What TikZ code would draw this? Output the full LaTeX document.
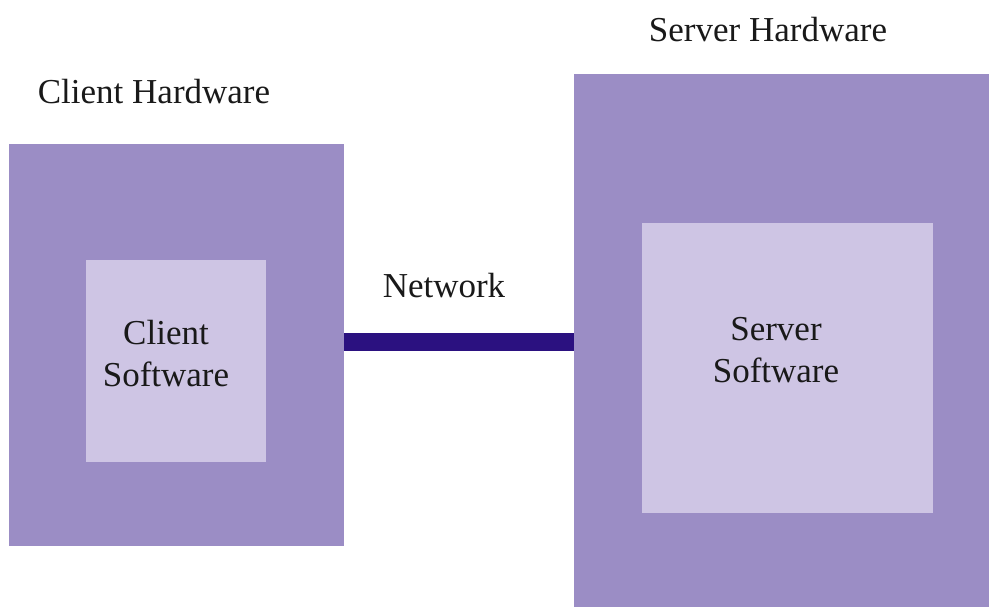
\documentclass[tikz,border=0pt]{standalone}
\usepackage{fontspec}
\setmainfont{Liberation Serif}
\definecolor{hwcol}{HTML}{9B8DC5}
\definecolor{swcol}{HTML}{CEC5E4}
\definecolor{netcol}{HTML}{2B1180}
\begin{document}
\begin{tikzpicture}[x=1pt,y=1pt,
  hwbox/.style={fill=hwcol, draw=none, inner sep=0pt, outer sep=0pt},
  swbox/.style={fill=swcol, draw=none, inner sep=0pt, outer sep=0pt},
  lbl/.style={font=\fontsize{35}{42}\selectfont, text=black!90, inner sep=0pt, anchor=base},
  swlbl/.style={font=\fontsize{35}{42}\selectfont, text=black!90, inner sep=0pt, align=center},
  netline/.style={draw=netcol, line width=18pt}]
\useasboundingbox (0,0) rectangle (989,607);
\fill[white] (0,0) rectangle (989,607);
% client hardware: x 9..344, y 144..546 (px, top-down)
\node[hwbox, minimum width=335, minimum height=402, anchor=north west] (clienthw) at (9,463) {};
\node[swbox, minimum width=180, minimum height=202, anchor=north west] (clientsw) at (86,347) {};
% server hardware: x 574..989, y 74..607
\node[hwbox, minimum width=415, minimum height=533, anchor=north west] (serverhw) at (574,533) {};
\node[swbox, minimum width=291, minimum height=290, anchor=north west] (serversw) at (642,384) {};
% network
\coordinate (netY) at (0,265);
\draw[netline] (clienthw.east |- netY) -- (serverhw.west |- netY);
% labels
\node[lbl] (clienthwlbl) at (154,503) {Client Hardware};
\node[lbl] (serverhwlbl) at (768,565) {Server Hardware};
\node[lbl] (netlbl) at (444,309) {Network};
\node[swlbl] (clientswlbl) at (166,253) {Client\\Software};
\node[swlbl] (serverswlbl) at (776,257) {Server\\Software};
\end{tikzpicture}
\end{document}
